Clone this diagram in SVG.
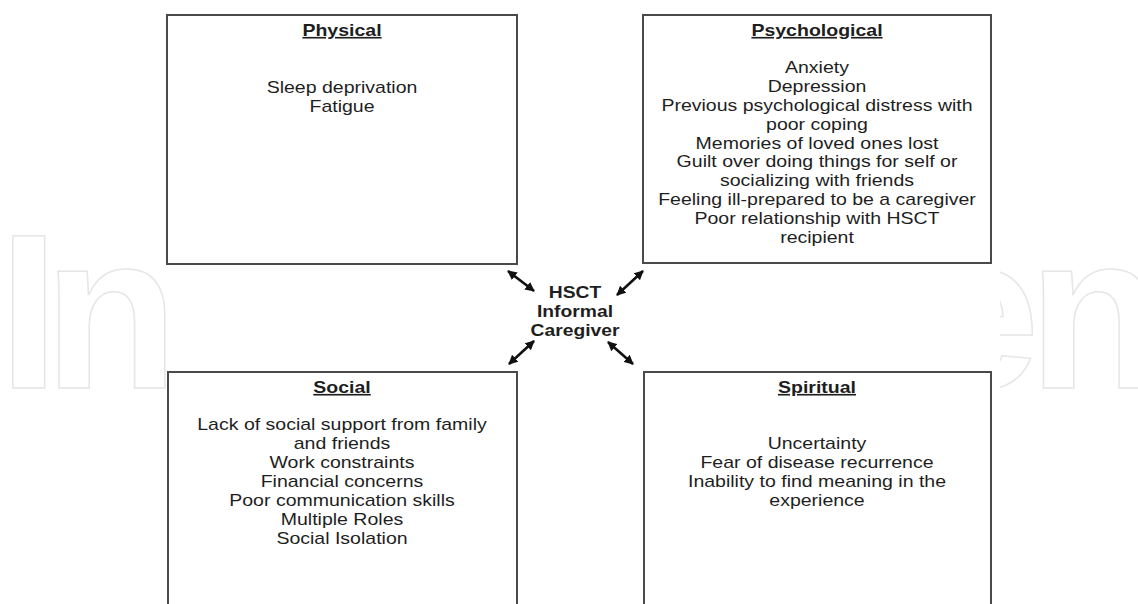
<svg xmlns="http://www.w3.org/2000/svg" width="1138" height="604" viewBox="0 0 1138 604">
<defs>
<style>
.box{fill:#fff;stroke:#4a4a4a;stroke-width:2}
.t{font-family:"Liberation Sans",Arial,sans-serif;font-size:16.4px;fill:#1e1e1e;text-anchor:middle}
.h{font-weight:bold;text-decoration:underline}
.c{font-weight:bold;font-size:16.2px}
.wm{font-family:"Liberation Sans",Arial,sans-serif;font-size:221px;font-weight:bold;fill:none;stroke:#e6e6e6;stroke-width:1.5}
.arr{stroke:#111;stroke-width:2.6;fill:none;marker-start:url(#ah);marker-end:url(#ah)}
</style>
<marker id="ah" viewBox="0 0 10 10" refX="9" refY="5" markerWidth="9.5" markerHeight="9.5" markerUnits="userSpaceOnUse" orient="auto-start-reverse">
<path d="M0,0 L10,5 L0,10 Z" fill="#111"/>
</marker>
<clipPath id="wmr"><rect x="1000" y="0" width="138" height="604"/></clipPath>
</defs>
<rect width="1138" height="604" fill="#fff"/>
<g id="watermark">
<text class="wm" x="-2" y="388" letter-spacing="-16">In</text>
<g clip-path="url(#wmr)">
<text class="wm" x="917" y="388" letter-spacing="-12">en</text>
</g>
</g>
<g id="physical">
<rect class="box" x="167" y="15" width="350" height="249"/>
<g transform="translate(342,0) scale(1.19,1)">
<text class="t h" x="0" y="36">Physical</text>
<text class="t" x="0" y="93.5">Sleep deprivation</text>
<text class="t" x="0" y="112">Fatigue</text>
</g>
</g>
<g id="psychological">
<rect class="box" x="643" y="15" width="348" height="248"/>
<g transform="translate(817,0) scale(1.19,1)">
<text class="t h" x="0" y="36">Psychological</text>
<text class="t" x="0" y="73.5">Anxiety</text>
<text class="t" x="0" y="92.3">Depression</text>
<text class="t" x="0" y="111.1">Previous psychological distress with</text>
<text class="t" x="0" y="129.9">poor coping</text>
<text class="t" x="0" y="148.7">Memories of loved ones lost</text>
<text class="t" x="0" y="167.5">Guilt over doing things for self or</text>
<text class="t" x="0" y="186.3">socializing with friends</text>
<text class="t" x="0" y="205.1">Feeling ill-prepared to be a caregiver</text>
<text class="t" x="0" y="223.9">Poor relationship with HSCT</text>
<text class="t" x="0" y="242.7">recipient</text>
</g>
</g>
<g id="social">
<rect class="box" x="168" y="372" width="349" height="250"/>
<g transform="translate(342,0) scale(1.19,1)">
<text class="t h" x="0" y="393">Social</text>
<text class="t" x="0" y="430">Lack of social support from family</text>
<text class="t" x="0" y="449">and friends</text>
<text class="t" x="0" y="468">Work constraints</text>
<text class="t" x="0" y="487">Financial concerns</text>
<text class="t" x="0" y="506">Poor communication skills</text>
<text class="t" x="0" y="525">Multiple Roles</text>
<text class="t" x="0" y="544">Social Isolation</text>
</g>
</g>
<g id="spiritual">
<rect class="box" x="644" y="372" width="347" height="250"/>
<g transform="translate(817,0) scale(1.19,1)">
<text class="t h" x="0" y="393">Spiritual</text>
<text class="t" x="0" y="449">Uncertainty</text>
<text class="t" x="0" y="468">Fear of disease recurrence</text>
<text class="t" x="0" y="487">Inability to find meaning in the</text>
<text class="t" x="0" y="506">experience</text>
</g>
</g>
<g id="center">
<g transform="translate(575,0) scale(1.19,1)">
<text class="t c" x="0" y="298">HSCT</text>
<text class="t c" x="0" y="317">Informal</text>
<text class="t c" x="0" y="336">Caregiver</text>
</g>
</g>
<g id="connectors">
<line class="arr" x1="508" y1="271" x2="534" y2="291"/>
<line class="arr" x1="534" y1="341" x2="509" y2="364"/>
<line class="arr" x1="643" y1="271" x2="617" y2="295"/>
<line class="arr" x1="608" y1="342" x2="633" y2="364"/>
</g>
</svg>
